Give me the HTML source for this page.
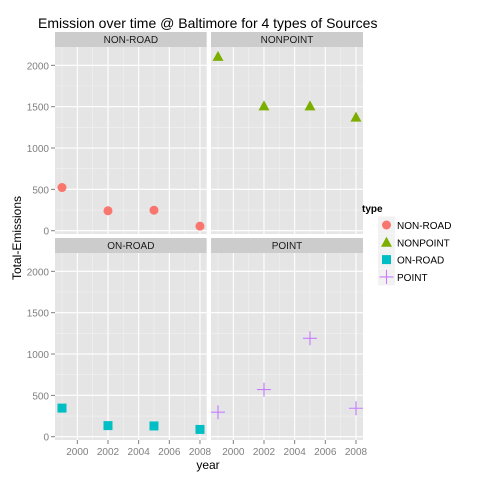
<!DOCTYPE html>
<html><head><meta charset="utf-8"><style>
body{margin:0;background:#fff;font-family:"Liberation Sans",sans-serif}
</style></head><body>
<svg width="480" height="480" xmlns="http://www.w3.org/2000/svg" font-family="Liberation Sans, sans-serif">
<rect width="480" height="480" fill="#fff"/>
<text x="38" y="28" font-size="14" fill="#000">Emission over time @ Baltimore for 4 types of Sources</text>
<text transform="translate(21,238) rotate(-90)" text-anchor="middle" font-size="12">Total-Emissions</text>
<text x="208" y="469" text-anchor="middle" font-size="12">year</text>
<g id="panels"></g>
<g id="legend"></g>
</svg>
<script>
const types=["NON-ROAD","NONPOINT","ON-ROAD","POINT"];
const years=[1999,2002,2005,2008];
const nonRoad=[522,241,248,55];
const nonPoint=[2108,1510,1510,1373];
const onRoad=[346,134,130,88];
const point=[296,570,1190,344];
const yTicks=[0,500,1000,1500,2000];
const xTicks=[2000,2002,2004,2006,2008];
const series=[nonRoad,nonPoint,onRoad,point];
const colors=["#F8766D","#7CAE00","#00BFC4","#C77CFF"];
const NS="http://www.w3.org/2000/svg";
const panels=document.getElementById('panels');
function mk(tag,attrs,parent){const e=document.createElementNS(NS,tag);for(const k in attrs)e.setAttribute(k,attrs[k]);parent.appendChild(e);return e;}
const cols=[{x0:55,x1:206.7},{x0:211,x1:363}];
const rows=[{s0:32,y0:47,y1:234},{s0:238,y0:253,y1:440}];
function xs(c,v){return c.x0+7+(v-1999)*15.33;}
function ys(r,v){return r.y1-3.3-v*0.08268;}
function shape(g,t,cx,cy,col,name){
  let e;
  if(t===0)e=mk('circle',{cx:cx,cy:cy,r:4.5,fill:col},g);
  else if(t===1)e=mk('polygon',{points:`${cx},${cy-5.5} ${cx+5.5},${cy+4.5} ${cx-5.5},${cy+4.5}`,fill:col},g);
  else if(t===2)e=mk('rect',{x:cx-4.5,y:cy-4.5,width:9,height:9,fill:col},g);
  else e=mk('path',{d:`M${cx-7},${cy}H${cx+7}M${cx},${cy-7}V${cy+7}`,stroke:col,'stroke-width':1.1,fill:'none'},g);
  
  
  return e;
}
types.forEach((t,i)=>{
  const c=cols[i%2],r=rows[Math.floor(i/2)];
  const g=mk('g',{},panels);
  
  
  mk('rect',{x:c.x0,y:r.s0,width:c.x1-c.x0,height:r.y0-r.s0,fill:'#CCCCCC'},g);
  const st=mk('text',{x:(c.x0+c.x1)/2,y:r.s0+11,'text-anchor':'middle','font-size':10,fill:'#1a1a1a'},g);
  st.textContent=t;
  
  
  mk('rect',{x:c.x0,y:r.y0,width:c.x1-c.x0,height:r.y1-r.y0,fill:'#E5E5E5'},g);
  for(let v=250;v<2300;v+=500){const y=ys(r,v);if(y>r.y0)mk('line',{x1:c.x0,x2:c.x1,y1:y,y2:y,stroke:'#F2F2F2','stroke-width':0.6},g);}
  for(let v=1999;v<=2009;v+=2){const x=xs(c,v);if(x<c.x1)mk('line',{x1:x,x2:x,y1:r.y0,y2:r.y1,stroke:'#F2F2F2','stroke-width':0.6},g);}
  yTicks.forEach(v=>{const y=ys(r,v);mk('line',{x1:c.x0,x2:c.x1,y1:y,y2:y,stroke:'#fff','stroke-width':1.1},g);
    if(i%2===0){mk('line',{x1:c.x0-4,x2:c.x0,y1:y,y2:y,stroke:'#7f7f7f'},g);const tt=mk('text',{x:c.x0-6,y:y+4,'text-anchor':'end','font-size':10,fill:'#7f7f7f'},g);tt.textContent=v;}});
  xTicks.forEach(v=>{const x=xs(c,v);mk('line',{x1:x,x2:x,y1:r.y0,y2:r.y1,stroke:'#fff','stroke-width':1.1},g);
    if(r===rows[1]){mk('line',{x1:x,x2:x,y1:r.y1,y2:r.y1+4,stroke:'#7f7f7f'},g);const tt=mk('text',{x:x,y:r.y1+15,'text-anchor':'middle','font-size':10,fill:'#7f7f7f'},g);tt.textContent=v;}});
  years.forEach((yr,k)=>shape(g,i,xs(c,yr),ys(r,series[i][k]),colors[i],'point-'+t.toLowerCase()+'-'+yr));
});
const lg=document.getElementById('legend');


const lt=mk('text',{x:362,y:212,'font-size':10,'font-weight':'bold'},lg);lt.textContent='type';


types.forEach((t,i)=>{
  const cy=225+i*17.3;
  mk('rect',{x:378,y:cy-8.5,width:17,height:17,fill:'#F2F2F2'},lg);
  shape(lg,i,386.5,cy,colors[i],'legend-key-'+t.toLowerCase());
  const tx=mk('text',{x:397,y:cy+4,'font-size':10},lg);tx.textContent=t;
  
  
});
</script>
</body></html>
